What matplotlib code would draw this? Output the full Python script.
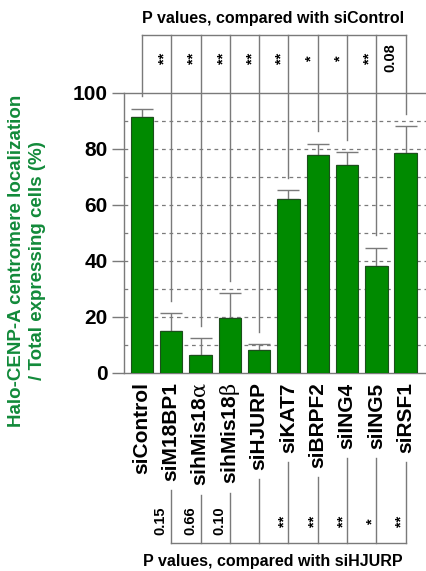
import numpy as np
import matplotlib
matplotlib.use('Agg')
import matplotlib.pyplot as plt

plt.rcParams['font.family'] = ['Liberation Sans', 'DejaVu Sans']
plt.rcParams['font.weight'] = 'bold'
plt.rcParams['mathtext.fontset'] = 'custom'
plt.rcParams['mathtext.rm'] = 'DejaVu Serif:weight=normal'
plt.rcParams['mathtext.default'] = 'rm'

# data
labels = ['siControl', 'siM18BP1', r'sihMis18$\alpha$', r'sihMis18$\beta$', 'siHJURP',
          'siKAT7', 'siBRPF2', 'siING4', 'siING5', 'siRSF1']
values = [91.4, 15.0, 6.3, 19.4, 8.0, 62.0, 77.6, 74.0, 38.0, 78.5]
errors = [2.9, 6.2, 6.0, 8.9, 2.2, 3.1, 4.1, 4.7, 6.5, 9.5]
p_ctrl = ['', '**', '**', '**', '**', '**', '*', '*', '**', '0.08']
p_hjurp = ['', '0.15', '0.66', '0.10', '', '**', '**', '**', '*', '**']

W, H = 426, 571
fig = plt.figure(figsize=(W / 100, H / 100), dpi=100)
ax = fig.add_axes([124.3 / W, 1 - 372.7 / H, (W - 124.3) / W, 280 / H])

bar_green = '#008a00'
gray = '#7a7a7a'
x = np.arange(len(values))

ax.bar(x, values, width=0.77, color=bar_green, edgecolor='#1c4f1c', linewidth=0.8, zorder=3)
ax.errorbar(x, values, yerr=[np.zeros(len(errors)), errors], fmt='none', ecolor=gray,
            elinewidth=1, capsize=8, capthick=1, zorder=2)

ax.set_xlim(-0.6, 9.69)
ax.set_ylim(0, 100)
for yv in range(10, 100, 10):
    ax.axhline(yv, color=gray, lw=0.9, ls=(0, (3, 3)), zorder=1)

ax.set_yticks(range(0, 101, 20))
ax.tick_params(axis='y', length=9, width=1, color=gray, labelsize=15, pad=3)
ax.set_xticks(x)
ax.set_xticklabels(labels, rotation=90, fontsize=15, fontweight='bold')
ax.tick_params(axis='x', length=0, pad=7)
for lab in ax.get_yticklabels():
    lab.set_fontweight('bold')

for s in ['left', 'top', 'bottom']:
    ax.spines[s].set_color(gray)
    ax.spines[s].set_linewidth(1)
ax.spines['right'].set_visible(False)

# top bracket: p values vs siControl
top_y = 120.6
ax.plot([0, len(values) - 1], [top_y, top_y], color=gray, lw=1, clip_on=False)
for i in x:
    ax.plot([i, i], [top_y, values[i] + errors[i] + 4.5], color=gray, lw=1, clip_on=False, zorder=2)
    if p_ctrl[i]:
        off = -0.23 if p_ctrl[i].startswith('*') else -0.54
        ax.text(i + off, 112.4, p_ctrl[i], rotation=90, ha='center', va='center',
                fontsize=10.5, fontweight='bold')
fig.text(273 / W, 1 - 18 / H, 'P values, compared with siControl', ha='center', va='center',
         fontsize=11.5, fontweight='bold')

# bottom bracket: p values vs siHJURP
fig.canvas.draw()
inv = ax.transData.inverted()
bot_y = -60.9
ax.plot([1, len(values) - 1], [bot_y, bot_y], color=gray, lw=1, clip_on=False)
ticklabs = ax.get_xticklabels()
for i in x[1:]:
    bb = ticklabs[i].get_window_extent()
    ytop = inv.transform((0, bb.y0 - 9))[1]
    ax.plot([i, i], [bot_y, ytop], color=gray, lw=1, clip_on=False)
    if p_hjurp[i]:
        off = -0.13 if p_hjurp[i].startswith('*') else -0.36
        ax.text(i + off, -53.0, p_hjurp[i], rotation=90, ha='center', va='center',
                fontsize=10.5, fontweight='bold')
fig.text(273 / W, 1 - 561.7 / H, 'P values, compared with siHJURP', ha='center', va='center',
         fontsize=11.5, fontweight='bold')

fig.text(27 / W, 1 - 261 / H, 'Halo-CENP-A centromere localization\n/ Total expressing cells (%)',
         rotation=90, ha='center', va='center', multialignment='center',
         fontsize=13.5, fontweight='bold', color='#128a3a', linespacing=1.35)

fig.savefig('out.png', dpi=100)
